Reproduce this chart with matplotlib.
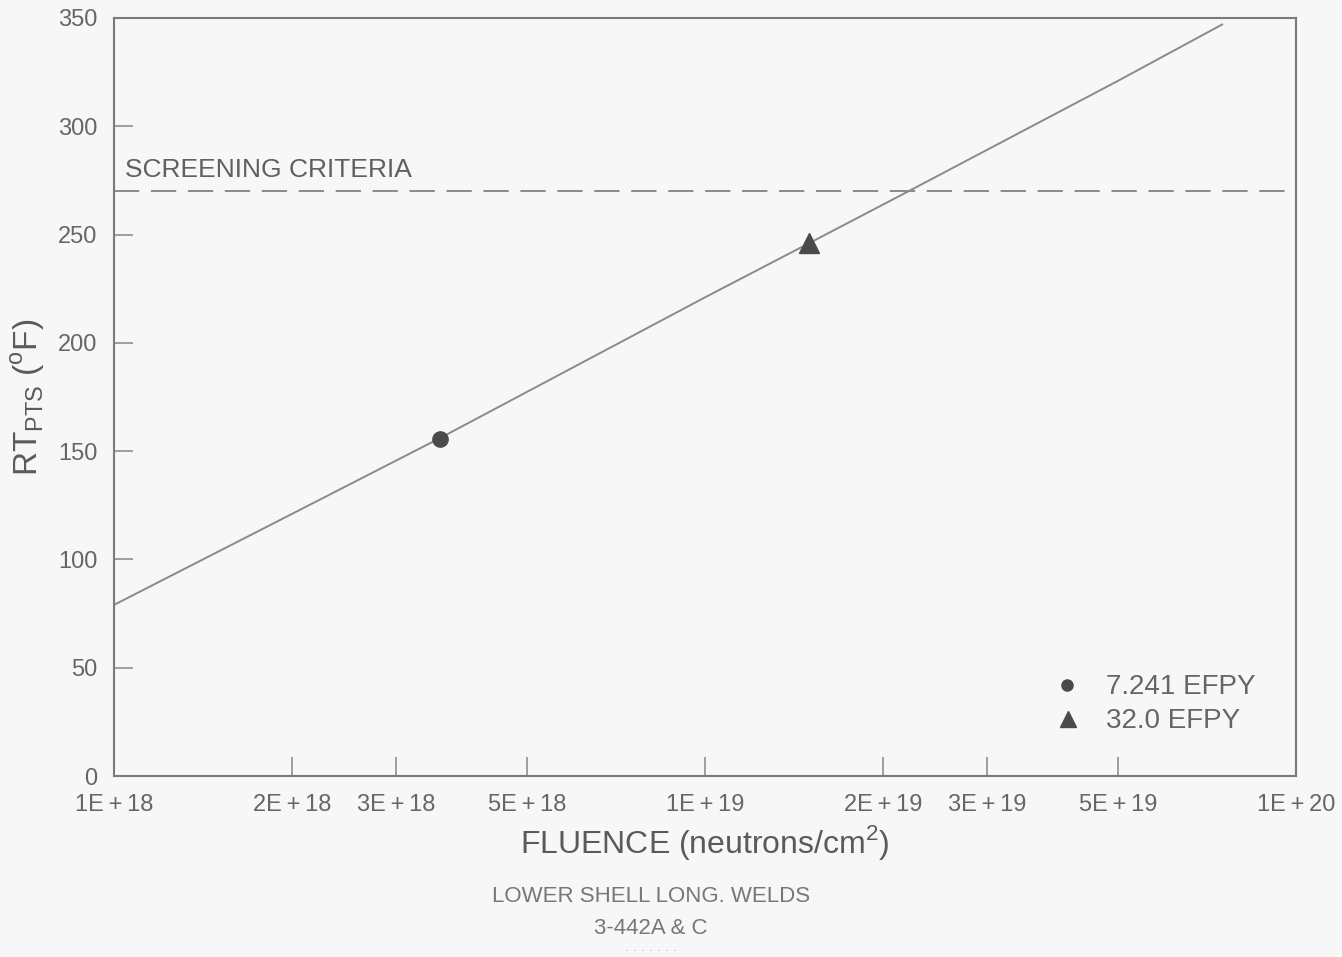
import matplotlib.pyplot as plt
from matplotlib.ticker import FixedLocator, NullLocator

# RT_PTS trend line (fluence in n/cm^2, temperature in deg F)
fluence = [1e18, 2e18, 3.56e18, 1e19, 1.5e19, 2.21e19, 5e19, 7.5e19]
rt_pts = [79, 121, 156, 221, 246, 270, 321, 347]

# marked points
efpy_labels = ["7.241 EFPY", "32.0 EFPY"]
efpy_fluence = [3.56e18, 1.5e19]
efpy_rt = [155.6, 246]

screening = 270

x_ticks = [1e18, 2e18, 3e18, 5e18, 1e19, 2e19, 3e19, 5e19, 1e20]
x_tick_labels = ["1E\u2009+\u200918", "2E\u2009+\u200918", "3E\u2009+\u200918",
                 "5E\u2009+\u200918", "1E\u2009+\u200919", "2E\u2009+\u200919",
                 "3E\u2009+\u200919", "5E\u2009+\u200919", "1E\u2009+\u200920"]
y_ticks = [0, 50, 100, 150, 200, 250, 300, 350]

bg = "#f7f7f7"
ink = "#666666"
fig = plt.figure(figsize=(13.42, 9.57), dpi=100, facecolor=bg)
ax = fig.add_axes([0.0849, 0.1891, 0.8808, 0.7921], facecolor=bg)

ax.plot(fluence, rt_pts, color="#8a8a8a", lw=1.4)
ax.axhline(screening, color="#8a8a8a", lw=1.4, dashes=(13, 6))
ax.plot(efpy_fluence[0], efpy_rt[0], "o", color="#4a4a4a", ms=11)
ax.plot(efpy_fluence[1], efpy_rt[1], "^", color="#4a4a4a", ms=14)

ax.set_xscale("log")
ax.set_xlim(1e18, 1e20)
ax.set_ylim(0, 350)
ax.xaxis.set_major_locator(FixedLocator(x_ticks))
ax.xaxis.set_minor_locator(NullLocator())
ax.set_xticklabels(x_tick_labels, family="Liberation Sans", fontsize=16)
ax.set_yticks(y_ticks)
ax.tick_params(direction="in", colors="#8f8f8f", labelcolor=ink, labelsize=17,
               length=14, width=1.2, pad=12)
ax.tick_params(axis="x", pad=13)
for lab in ax.get_yticklabels():
    lab.set_family("Liberation Sans")
for s in ax.spines.values():
    s.set_color("#7a7a7a")
    s.set_linewidth(1.5)

ax.text(0.009, 0.79, "SCREENING CRITERIA", transform=ax.transAxes,
        fontsize=19, color="#606060", family="Liberation Sans")

# legend drawn by hand to match the scanned figure
ax.plot(0.806, 0.120, "o", transform=ax.transAxes, color="#4a4a4a", ms=8)
ax.plot(0.807, 0.075, "^", transform=ax.transAxes, color="#4a4a4a", ms=12)
ax.text(0.839, 0.117, efpy_labels[0], transform=ax.transAxes, fontsize=20,
        color=ink, va="center", family="Liberation Sans")
ax.text(0.839, 0.072, efpy_labels[1], transform=ax.transAxes, fontsize=20,
        color=ink, va="center", family="Liberation Sans")

ax.set_xlabel(r"FLUENCE (neutrons/cm$^{\mathregular{2}}$)", fontsize=23,
              color="#5a5a5a", family="Liberation Sans", labelpad=5)
ax.set_ylabel(r"RT$_{\mathregular{PTS}}$ ($^{\mathregular{o}}$F)", fontsize=24,
              color="#5a5a5a", family="Liberation Sans", labelpad=8)

fig.text(0.485, 0.063, "LOWER SHELL LONG. WELDS", ha="center", va="center",
         fontsize=16, color="#777777", family="Liberation Sans")
fig.text(0.485, 0.030, "3-442A & C", ha="center", va="center",
         fontsize=16, color="#777777", family="Liberation Sans")
fig.text(0.485, 0.010, ". . . . . . .", ha="center", va="center",
         fontsize=9, color="#bbbbbb")

fig.savefig("out.png", dpi=100, facecolor=bg)
